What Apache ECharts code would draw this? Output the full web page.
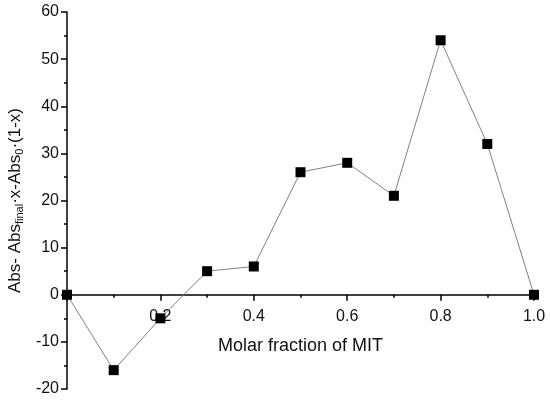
<!DOCTYPE html>
<html><head><meta charset="utf-8">
<script src="https://cdn.jsdelivr.net/npm/echarts@6/dist/echarts.min.js"></script>
<style>html,body{margin:0;padding:0;background:#fff}#c{width:550px;height:400px}</style>
</head><body><div id="c"></div>
<script>
const xValues = [0, 0.1, 0.2, 0.3, 0.4, 0.5, 0.6, 0.7, 0.8, 0.9, 1.0];
const yValues = [0, -16, -5, 5, 6, 26, 28, 21, 54, 32, 0];
const xTitle = 'Molar fraction of MIT';
const yTitleParts = ['Abs- Abs', 'final', '·x-Abs', '0', '·(1-x)'];

const chart = echarts.init(document.getElementById('c'));
const font = '"Liberation Sans", Arial, sans-serif';
const yName = '{m|' + yTitleParts[0] + '}{s|' + yTitleParts[1] + '}{m|' + yTitleParts[2] + '}{s|' + yTitleParts[3] + '}{m|' + yTitleParts[4] + '}';
const gridBottom = 11;
chart.setOption({
  animation: false,
  grid: {left: 67, right: 16, top: 12, bottom: gridBottom, containLabel: false, outerBoundsMode: 'none'},
  xAxis: {
    type: 'value', min: 0, max: 1, interval: 0.2, position: 'bottom', offset: 0,
    axisLine: {onZero: false, lineStyle: {color: '#000', width: 1.5}},
    axisTick: {show: true, inside: false, length: 6, lineStyle: {color: '#000', width: 1.5}},
    minorTick: {show: true, splitNumber: 2, length: 3, lineStyle: {color: '#000', width: 1.5}},
    splitLine: {show: false},
    axisLabel: {fontFamily: font, fontSize: 16, color: '#111', margin: 14,
      formatter: v => v === 0 ? '' : v.toFixed(1)},
    name: xTitle, nameLocation: 'middle', nameGap: 42,
    nameTextStyle: {fontFamily: font, fontSize: 18, color: '#111'}
  },
  yAxis: {
    type: 'value', min: -20, max: 60, interval: 10,
    axisLine: {show: true, onZero: false, lineStyle: {color: '#000', width: 1.5}},
    axisTick: {show: true, length: 6, lineStyle: {color: '#000', width: 1.5}},
    minorTick: {show: true, splitNumber: 2, length: 3, lineStyle: {color: '#000', width: 1.5}},
    splitLine: {show: false},
    axisLabel: {fontFamily: font, fontSize: 16, color: '#111', margin: 8},
    name: yName, nameLocation: 'middle', nameGap: 37, nameRotate: 90,
    nameTextStyle: {fontFamily: font, color: '#111',
      rich: {
        m: {fontFamily: font, fontSize: 17, color: '#111'},
        s: {fontFamily: font, fontSize: 11, color: '#111', padding: [8, 0, 0, 0]}
      }}
  },
  series: [{
    type: 'line', data: xValues.map((x, i) => [x, yValues[i]]),
    symbol: 'rect', symbolSize: 10,
    itemStyle: {color: '#000'},
    lineStyle: {color: '#808080', width: 1}
  }]
});
// move the x axis up so it crosses the y axis at zero
const zeroPx = chart.convertToPixel({yAxisIndex: 0}, 0);
const bottomPx = chart.getHeight() - gridBottom;
chart.setOption({xAxis: {offset: zeroPx - bottomPx}});
</script></body></html>
